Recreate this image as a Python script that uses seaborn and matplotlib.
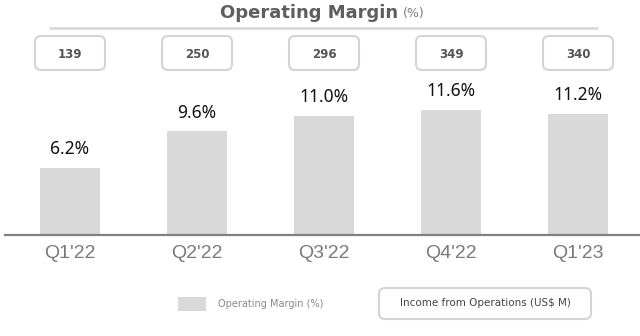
import matplotlib
matplotlib.use("Agg")
import matplotlib.pyplot as plt
import seaborn as sns
import pandas as pd
from matplotlib.patches import FancyBboxPatch, Rectangle
from matplotlib.lines import Line2D

quarters = ["Q1'22", "Q2'22", "Q3'22", "Q4'22", "Q1'23"]
margin_pct = [6.2, 9.6, 11.0, 11.6, 11.2]
income_ops = [139, 250, 296, 349, 340]
title = "Operating Margin"
title_unit = "(%)"
legend_bar = "Operating Margin (%)"
legend_box = "Income from Operations (US$ M)"

sns.set_theme(style="white")
plt.rcParams['font.family'] = ['DejaVu Sans']

W, H = 640, 336
fig = plt.figure(figsize=(W / 100, H / 100), dpi=100)

base_px = 235  # baseline from top
left_px = 5
ax = fig.add_axes([left_px / W, 1 - base_px / H, 1 - left_px / W, base_px / H])

df = pd.DataFrame({"q": quarters, "m": margin_pct})
sns.barplot(data=df, x="q", y="m", ax=ax, color="#d9d9d9", width=0.47,
            saturation=1, edgecolor="none")

step = 127.0
c0 = 70.0
ax.set_xlim((left_px - c0) / step, (W - c0) / step)
ax.set_ylim(0, base_px / 10.8)
ax.set_xlabel("")
ax.set_ylabel("")
ax.set_yticks([])
ax.set_xticks([])
for s in ["top", "right", "left"]:
    ax.spines[s].set_visible(False)
ax.spines["bottom"].set_color("#808080")
ax.spines["bottom"].set_linewidth(1.6)

# value labels
for i, v in enumerate(margin_pct):
    ax.annotate(f"{v:.1f}%", (i, v), xytext=(0, 7), textcoords="offset points",
                ha="center", va="bottom", fontsize=12.5, color="#111111",
                family="Noto Sans")

# tick labels
for i, q in enumerate(quarters):
    xd = ax.transData.transform((i, 0))[0]
    fig.text(xd / W, 1 - 254 / H, q, ha="center", va="center", fontsize=14,
             color="#7a7a7a", family="Liberation Sans")

# income boxes
for i, val in enumerate(income_ops):
    xd = ax.transData.transform((i, 0))[0]
    bw, bh = 66, 30
    x0 = xd - bw / 2
    y0 = H - 70 + 2
    p = FancyBboxPatch((x0, y0), bw, bh, boxstyle="round,pad=2,rounding_size=6",
                       transform=None, facecolor="white", edgecolor="#d4d4d4",
                       linewidth=1.5)
    fig.add_artist(p)
    fig.text(xd / W, 1 - 54 / H, str(val), ha="center", va="center",
             fontsize=8.5, fontweight="bold", color="#555555")

# title
fig.text(398 / W, 1 - 13 / H, title, ha="right", va="center", fontsize=13,
         fontweight="bold", color="#5e5e5e")
fig.text(403 / W, 1 - 14 / H, title_unit, ha="left", va="center", fontsize=9,
         color="#7a7a7a")
fig.add_artist(Line2D([50 / W, 597 / W], [1 - 28 / H, 1 - 28 / H],
                      transform=fig.transFigure, color="#d9d9d9", linewidth=2))

# legend
fig.add_artist(Rectangle((178, H - 311), 28, 14, transform=None,
                         facecolor="#d9d9d9", edgecolor="none"))
fig.text(218 / W, 1 - 304 / H, legend_bar, ha="left", va="center", fontsize=7,
         color="#8a8a8a")
lb = FancyBboxPatch((381, H - 317), 208, 27, boxstyle="round,pad=2,rounding_size=6",
                    transform=None, facecolor="white", edgecolor="#d4d4d4",
                    linewidth=1.5)
fig.add_artist(lb)
fig.text(485 / W, 1 - 303 / H, legend_box, ha="center", va="center", fontsize=7.5,
         color="#444444")

fig.savefig("out.png", dpi=100)
